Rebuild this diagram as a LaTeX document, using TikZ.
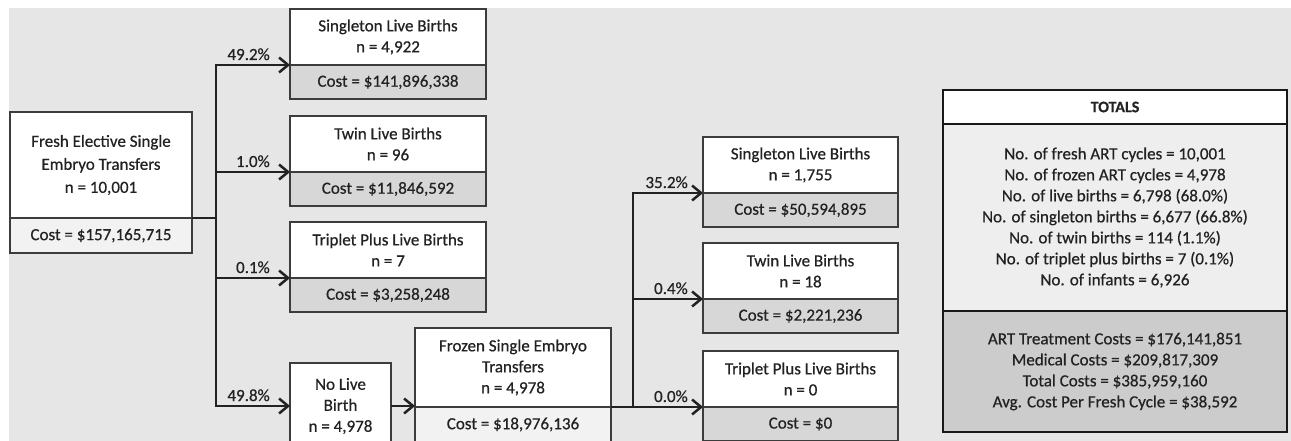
\documentclass[tikz,border=0pt]{standalone}
\usepackage{xcolor}
\usepackage{fontspec}
\setmainfont{Carlito}[FakeBold=0.6]
\usetikzlibrary{shapes, arrows.meta, positioning}

\definecolor{bggray}{HTML}{E6E6E6}
\definecolor{costgray}{HTML}{D7D7D7}
\definecolor{costlight}{HTML}{F2F2F2}
\definecolor{sumlight}{HTML}{EEEEEE}
\definecolor{sumgray}{HTML}{CCCCCC}
\definecolor{edgegray}{HTML}{3C3C3C}
\definecolor{inkgray}{HTML}{222222}

\begin{document}
\begin{tikzpicture}[x=1pt, y=-1pt, font=\fontsize{17}{21}\selectfont, text=inkgray]
\tikzstyle{cell} = [rectangle, draw=edgegray, line width=1.5pt, fill=white, outer sep=0pt, inner sep=0pt, align=center, anchor=north west]
\tikzstyle{outcome} = [cell, minimum width=196pt, minimum height=56pt]
\tikzstyle{outcost} = [cell, fill=costgray, minimum width=196pt, minimum height=34pt]
\tikzstyle{total} = [cell, draw=black!90, line width=2.6pt, minimum width=344pt]
\tikzstyle{arrow} = [draw=inkgray, line width=2.5pt, -{Straight Barb[length=9pt, width=15pt]}]
\tikzstyle{line} = [draw=inkgray, line width=2.5pt]
\tikzstyle{pct} = [pos=1, anchor=base east, inner sep=0pt, yshift=5pt]

\useasboundingbox (0,0) rectangle (1291,441);
\clip (0,0) rectangle (1291,441);
\fill[bggray] (9,8) rectangle (1291,441);

% fresh transfers
\node (fresh) [cell, minimum width=182pt, minimum height=106pt] at (10,112) {Fresh Elective Single\\[2pt] Embryo Transfers\\[2pt] n = 10,001};
\node (freshcost) [cell, fill=costlight, minimum width=182pt, minimum height=35pt, below=0pt of fresh] {Cost = \$157,165,715};

\node (single1) [outcome] at (290,9) {Singleton Live Births\\ n = 4,922};
\node (single1cost) [outcost, below=0pt of single1] {Cost = \$141,896,338};
\node (twin1) [outcome] at (290,116) {Twin Live Births\\ n = 96};
\node (twin1cost) [outcost, below=0pt of twin1] {Cost = \$11,846,592};
\node (trip1) [outcome] at (290,222) {Triplet Plus Live Births\\ n = 7};
\node (trip1cost) [outcost, below=0pt of trip1] {Cost = \$3,258,248};
\node (nolive) [cell, minimum width=101pt, minimum height=86pt] at (290,363) {No Live\\ Birth\\ n = 4,978};

% frozen transfers
\node (frozen) [cell, minimum width=196pt, minimum height=79pt] at (415,328) {Frozen Single Embryo\\ Transfers\\ n = 4,978};
\node (frozencost) [cell, fill=costlight, minimum width=196pt, minimum height=35pt, below=0pt of frozen] {Cost = \$18,976,136};

\node (single2) [outcome, minimum width=195pt] at (703,137) {Singleton Live Births\\ n = 1,755};
\node (single2cost) [outcost, minimum width=195pt, below=0pt of single2] {Cost = \$50,594,895};
\node (twin2) [outcome, minimum width=195pt] at (703,243) {Twin Live Births\\ n = 18};
\node (twin2cost) [outcost, minimum width=195pt, below=0pt of twin2] {Cost = \$2,221,236};
\node (trip2) [outcome, minimum width=195pt] at (703,351) {Triplet Plus Live Births\\ n = 0};
\node (trip2cost) [outcost, minimum width=195pt, below=0pt of trip2] {Cost = \$0};

% totals
\node (totals) [total, minimum height=34pt] at (943,90) {\bfseries\fontsize{16}{19}\selectfont TOTALS};
\node (counts) [total, fill=sumlight, minimum height=187pt, below=0pt of totals] {No. of fresh ART cycles = 10,001\\ No. of frozen ART cycles = 4,978\\ No. of live births = 6,798 (68.0\%)\\ No. of singleton births = 6,677 (66.8\%)\\ No. of twin births = 114 (1.1\%)\\ No. of triplet plus births = 7 (0.1\%)\\ No. of infants = 6,926};
\node (costs) [total, fill=sumgray, minimum height=121pt, below=0pt of counts] {ART Treatment Costs = \$176,141,851\\ Medical Costs = \$209,817,309\\ Total Costs = \$385,959,160\\ Avg. Cost Per Fresh Cycle = \$38,592};

\coordinate (split1) at (216,218);
\coordinate (split2) at (633,407);

\draw [line] (freshcost.north east) -- (split1);
\draw [arrow] (split1) |- node[pct, xshift=-19pt] {49.2\%} (single1cost.north west);
\draw [arrow] (split1) |- node[pct, xshift=-19pt] {1.0\%} (twin1cost.north west);
\draw [arrow] (split1) |- node[pct, xshift=-19pt] {0.1\%} (trip1cost.north west);
\draw [arrow] (split1) |- node[pct, xshift=-19pt] {49.8\%} (nolive.west);
\draw [arrow] (nolive.east) -- (nolive.east -| frozen.west);

\draw [line] (frozencost.north east) -- (split2);
\draw [arrow] (split2) |- node[pct, xshift=-14pt] {35.2\%} (single2cost.north west);
\draw [arrow] (split2) |- node[pct, xshift=-14pt] {0.4\%} (twin2cost.north west);
\draw [arrow] (split2) -- node[pct, xshift=-14pt] {0.0\%} (trip2cost.north west);

\end{tikzpicture}
\end{document}
